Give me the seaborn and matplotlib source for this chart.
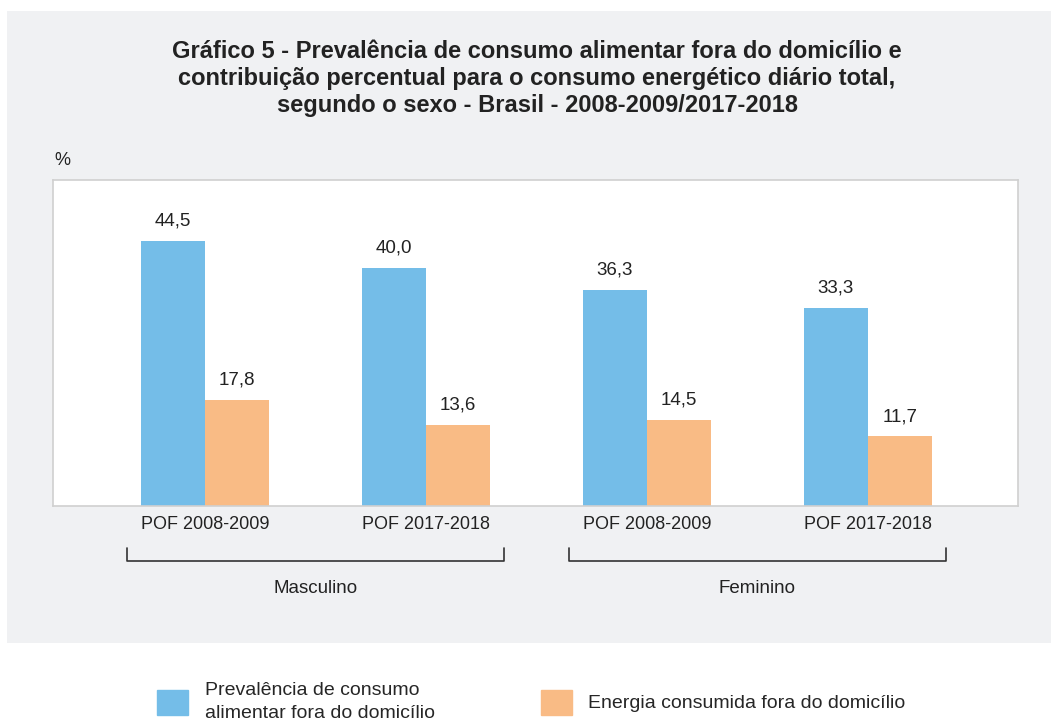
import pandas as pd
import seaborn as sns
import matplotlib.pyplot as plt
from matplotlib.patches import Rectangle

# Dados
sexos = ["Masculino", "Masculino", "Feminino", "Feminino"]
periodos = ["POF 2008-2009", "POF 2017-2018", "POF 2008-2009", "POF 2017-2018"]
prevalencia = [44.5, 40.0, 36.3, 33.3]
energia = [17.8, 13.6, 14.5, 11.7]
series = ["Prevalência de consumo\nalimentar fora do domicílio",
          "Energia consumida fora do domicílio"]
grupos = ["Masculino", "Feminino"]

cores = ["#74BDE8", "#F9BB85"]
fundo = "#F0F1F3"

chaves = [s + " " + p for s, p in zip(sexos, periodos)]
df = pd.DataFrame({
    "chave": chaves * 2,
    "serie": [series[0]] * 4 + [series[1]] * 4,
    "valor": prevalencia + energia,
})

sns.set_theme(style="white")
plt.rcParams["font.family"] = ["Liberation Sans", "DejaVu Sans"]

fig = plt.figure(figsize=(10.51, 7.22), dpi=100)
fig.patches.append(Rectangle((7 / 1051, 79 / 722), 1 - 7 / 1051, 632 / 722,
                             transform=fig.transFigure, facecolor=fundo,
                             edgecolor="none", zorder=-5))

ax = fig.add_axes([53 / 1051, 216 / 722, 965 / 1051, 326 / 722])
sns.barplot(data=df, x="chave", y="valor", hue="serie", order=chaves,
            palette=cores, width=0.58, saturation=1, linewidth=0,
            ax=ax, legend=False)

ax.set_facecolor("white")
ax.set_xlim(-0.688, 3.679)
ax.set_ylim(0, 54.7)
ax.set_yticks([])
ax.set_xlabel("")
ax.set_ylabel("")
ax.set_xticks(range(4))
ax.set_xticklabels(periodos, fontsize=13, color="#222222")
ax.tick_params(axis="x", length=0, pad=7)
for sp in ax.spines.values():
    sp.set_color("#D0D0D0")
    sp.set_linewidth(1.2)

for cont in ax.containers:
    ax.bar_label(cont, labels=[f"{v:.1f}".replace(".", ",") for v in cont.datavalues],
                 padding=8, fontsize=13.5, color="#222222")

# chaves de agrupamento
trans = ax.get_xaxis_transform()
for i, g in enumerate(grupos):
    c = 0.5 + 2 * i
    ax.plot([c - 0.855, c - 0.855, c + 0.855, c + 0.855],
            [-0.129, -0.169, -0.169, -0.129], color="#333333", lw=1.2,
            transform=trans, clip_on=False)
    ax.text(c, -0.252, g, transform=trans, ha="center", va="center",
            fontsize=13.5, color="#222222")

ax.text(0.001, 1.035, "%", transform=ax.transAxes, ha="left", va="bottom",
        fontsize=13, color="#222222")

fig.text(0.511, 1 - 40 / 722,
         "Gráfico 5 - Prevalência de consumo alimentar fora do domicílio e\n"
         "contribuição percentual para o consumo energético diário total,\n"
         "segundo o sexo - Brasil - 2008-2009/2017-2018",
         ha="center", va="top", fontsize=17, fontweight="bold",
         color="#222222", linespacing=1.22)

handles = [Rectangle((0, 0), 1, 1, color=c) for c in cores]
leg = fig.legend(handles, series, loc="center left",
                 bbox_to_anchor=(157 / 1051, 1 - 702 / 722),
                 ncol=2, frameon=False, fontsize=14, handlelength=1.6,
                 handleheight=1.6, handletextpad=0.85, columnspacing=5.45,
                 borderpad=0, borderaxespad=0)
for t in leg.get_texts():
    t.set_linespacing(1.4)

fig.savefig("out.png", dpi=100, facecolor="white")
